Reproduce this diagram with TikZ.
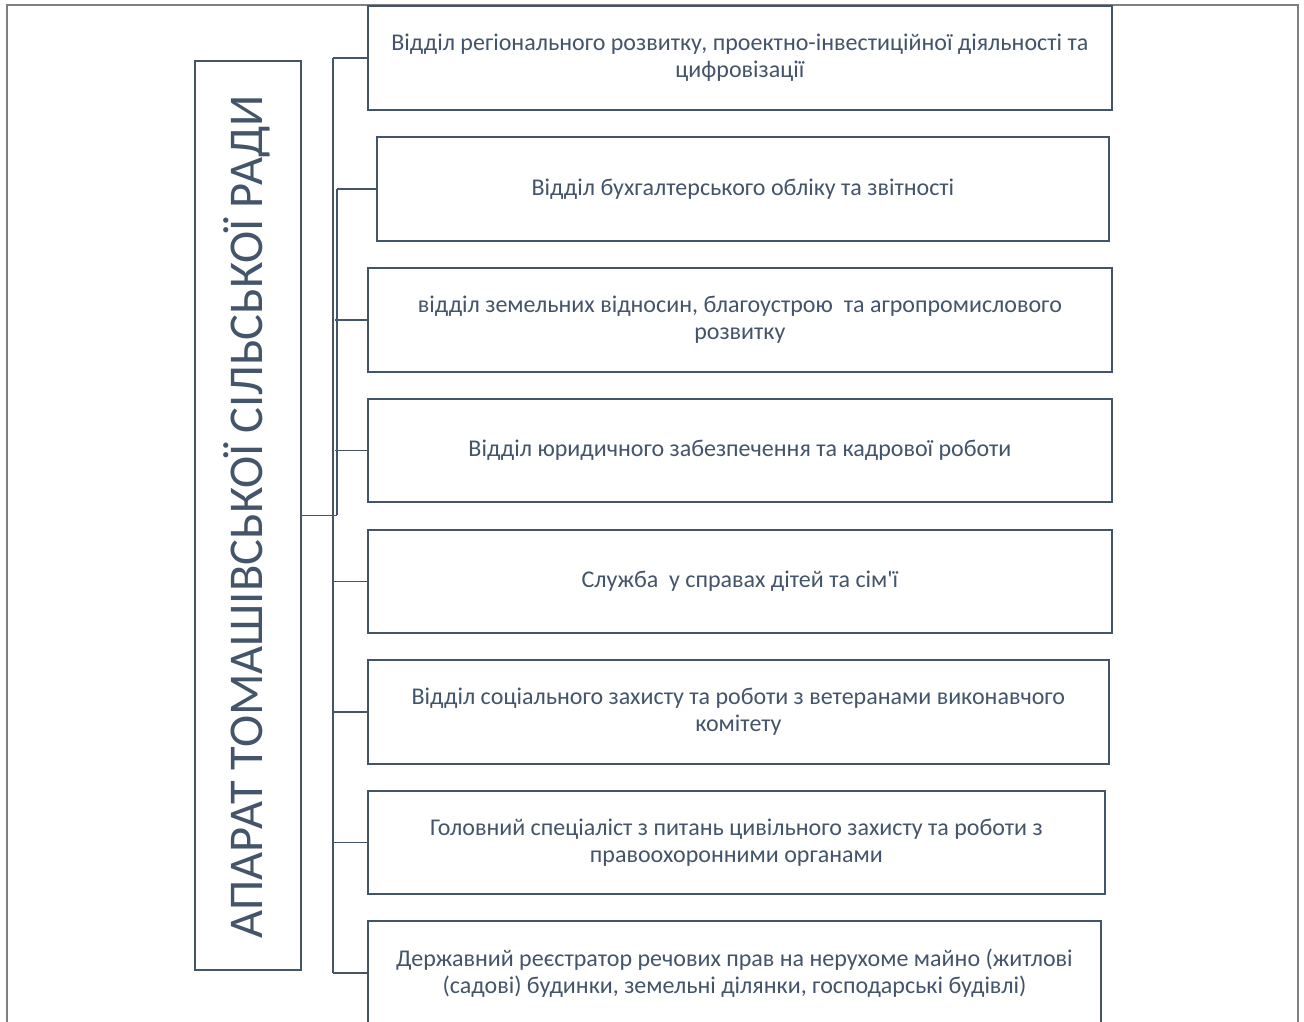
\documentclass[tikz,border=0pt]{standalone}
\usepackage{fontspec}
\setmainfont{Carlito}
\newfontfamily\plainfont[Ligatures=ResetAll]{Carlito}
\definecolor{ink}{HTML}{44546A}
\definecolor{frame}{HTML}{7F7F7F}
\begin{document}
\begin{tikzpicture}[x=1pt,y=-1pt,
  dbox/.style={draw=ink, line width=1.8pt, anchor=north west, inner sep=0pt,
    minimum height=104pt, align=center, text=ink,
    font=\fontsize{24}{27}\selectfont},
  conn/.style={draw=ink, line width=1.8pt},
]
\useasboundingbox (0,0) rectangle (1304,1022);
\clip (0,0) rectangle (1304,1022);
\fill[white] (0,0) rectangle (1304,1022);
\draw[frame, line width=1.2pt] (7,1040) -- (7,5) -- (1298,5) -- (1298,1040);

\node[draw=ink, line width=1.8pt, anchor=north west, minimum width=106pt, minimum height=909pt, inner sep=0pt] (main) at (194,60) {};
\node[rotate=90, anchor=base, text=ink, font=\fontsize{48.5}{52}\selectfont, inner sep=0pt] (title) at (262,517) {АПАРАТ ТОМАШІВСЬКОЇ СІЛЬСЬКОЇ РАДИ};

\node[dbox, minimum width=744pt] (d1) at (367,5) {Відділ регіонального розвитку, проектно-інвестиційної діяльності та\\цифровізації};
\node[dbox, minimum width=732pt] (d2) at (376,136) {Відділ бухгалтерського обліку та звітності};
\node[dbox, minimum width=744pt] (d3) at (367,267) {відділ земельних відносин, благоустрою\ \ та агропромислового\\розвитку};
\node[dbox, minimum width=744pt, minimum height=103pt] (d4) at (367,398) {Відділ юридичного забезпечення та кадрової роботи};
\node[dbox, minimum width=744pt, minimum height=103pt] (d5) at (367,529) {Служба\ \ у справах дітей та сім{\plainfont'}ї};
\node[dbox, minimum width=741pt] (d6) at (367,659) {Відділ соціального захисту та роботи з ветеранами виконавчого\\комітету};
\node[dbox, minimum width=737pt, minimum height=103pt] (d7) at (367,790) {Головний спеціаліст з питань цивільного захисту та роботи з\\правоохоронними органами};
\node[dbox, minimum width=733pt] (d8) at (367,920) {Державний реєстратор речових прав на нерухоме майно (житлові\\(садові) будинки, земельні ділянки, господарські будівлі)};

\coordinate (bus1) at (333,0);
\coordinate (bus2) at (337,0);
\coordinate (bus3) at (335,0);

\draw[conn] (d1.west -| bus1) -- (d8.west -| bus1);
\foreach \i in {1,5,6,7,8} {\draw[conn] (d\i.west -| bus1) -- (d\i.west);}
\draw[conn] (d2.west -| bus2) -- (main.east -| bus2);
\draw[conn] (d2.west -| bus2) -- (d2.west);
\draw[conn] (main.east) -- (main.east -| bus2);
\draw[conn] (d3.west -| bus3) -- (d3.west);
\draw[conn] (d4.west -| bus3) -- (d4.west);
\end{tikzpicture}
\end{document}
